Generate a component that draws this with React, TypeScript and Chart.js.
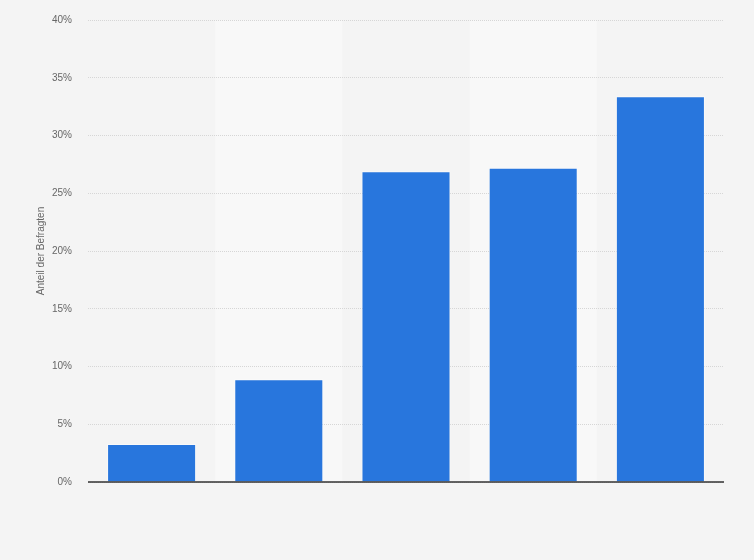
import React, { useEffect, useRef } from 'react';
import { Chart, registerables } from 'chart.js';

Chart.register(...registerables);

// no category names are shown in the chart
const categories = ['1', '2', '3', '4', '5'];
const shares = [3.3, 8.9, 26.9, 27.2, 33.4];
const yTicks = [0, 5, 10, 15, 20, 25, 30, 35, 40];

// lighter background band behind every second category, under the grid
const bandPlugin = {
  id: 'bands',
  beforeDraw(chart: any) {
    const { ctx, chartArea, scales } = chart;
    const x = scales.x;
    const step = x.width / categories.length;
    ctx.save();
    ctx.fillStyle = '#f8f8f8';
    categories.forEach((_, i) => {
      if (i % 2 === 1) {
        const cx = x.getPixelForValue(i);
        ctx.fillRect(cx - step / 2, chartArea.top, step, chartArea.bottom - chartArea.top);
      }
    });
    ctx.restore();
  },
};

const axisLinePlugin = {
  id: 'zeroLine',
  afterDatasetsDraw(chart: any) {
    const { ctx, chartArea, scales } = chart;
    const y = scales.y.getPixelForValue(0);
    ctx.save();
    ctx.strokeStyle = '#333';
    ctx.lineWidth = 1.5;
    ctx.beginPath();
    ctx.moveTo(chartArea.left, y);
    ctx.lineTo(chartArea.right, y);
    ctx.stroke();
    ctx.restore();
  },
};

const App: React.FC = () => {
  const canvasRef = useRef<HTMLCanvasElement | null>(null);

  useEffect(() => {
    document.body.style.margin = '0';
    const ctx = canvasRef.current?.getContext('2d');
    if (!ctx) return;

    const chart = new Chart(ctx, {
      type: 'bar',
      data: {
        labels: categories,
        datasets: [{
          data: shares,
          backgroundColor: '#2876dd',
          borderColor: 'rgba(255,255,255,0.45)',
          borderWidth: 1,
          categoryPercentage: 0.7,
          barPercentage: 1,
        }],
      },
      options: {
        responsive: false,
        animation: false,
        layout: { padding: { top: 20, right: 30, bottom: 70, left: 35 } },
        plugins: {
          legend: { display: false },
          tooltip: { enabled: false },
        },
        scales: {
          x: {
            grid: { display: false },
            border: { display: false },
            ticks: { display: false },
          },
          y: {
            min: 0,
            max: 40,
            afterBuildTicks: (scale: any) => {
              scale.ticks = yTicks.map((v) => ({ value: v }));
            },
            afterFit: (scale: any) => {
              scale.width = 53;
              scale.paddingTop = 6;
            },
            title: {
              display: true,
              text: 'Anteil der Befragten',
              color: '#666',
              font: { family: 'Arial, Liberation Sans, sans-serif', size: 10 },
              padding: 0,
            },
            ticks: {
              color: '#666',
              font: { family: 'Arial, Liberation Sans, sans-serif', size: 10 },
              padding: 16,
              callback: (v: any) => v + '%',
            },
            grid: {
              color: '#d6d6d6',
              drawTicks: false,
            },
            border: { display: false, dash: [1, 1] },
          },
        },
      },
      plugins: [bandPlugin, axisLinePlugin],
    });

    return () => {
      chart.destroy();
    };
  }, []);

  return (
    <div style={{ width: 754, height: 560, background: '#f4f4f4' }}>
      <canvas ref={canvasRef} width="754" height="560"></canvas>
    </div>
  );
};

export default App;
